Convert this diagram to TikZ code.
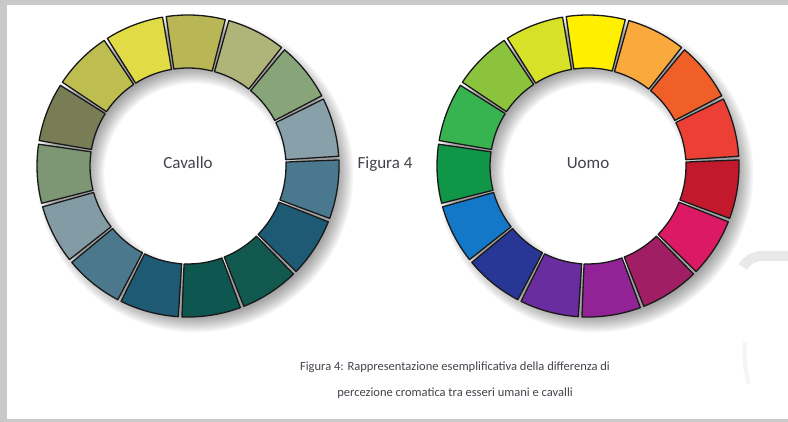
\documentclass[tikz,border=0pt]{standalone}
\usepackage{fontspec}
\setmainfont{Carlito}
\usetikzlibrary{positioning}

% palette, clockwise from the segment right of 3 o'clock going up
\definecolor{horse1}{HTML}{88A0AA}
\definecolor{horse2}{HTML}{87A578}
\definecolor{horse3}{HTML}{AFB478}
\definecolor{horse4}{HTML}{B9B655}
\definecolor{horse5}{HTML}{E1DC46}
\definecolor{horse6}{HTML}{BEBE50}
\definecolor{horse7}{HTML}{787D55}
\definecolor{horse8}{HTML}{7D9673}
\definecolor{horse9}{HTML}{829BA5}
\definecolor{horse10}{HTML}{4B788C}
\definecolor{horse11}{HTML}{1E5A73}
\definecolor{horse12}{HTML}{0E5650}
\definecolor{horse13}{HTML}{11594F}
\definecolor{horse14}{HTML}{1E5A73}
\definecolor{horse15}{HTML}{4A788E}
\definecolor{human1}{HTML}{EC4037}
\definecolor{human2}{HTML}{F05F28}
\definecolor{human3}{HTML}{FAAA3C}
\definecolor{human4}{HTML}{FFF000}
\definecolor{human5}{HTML}{D7E128}
\definecolor{human6}{HTML}{8CC33C}
\definecolor{human7}{HTML}{37B450}
\definecolor{human8}{HTML}{0F9646}
\definecolor{human9}{HTML}{1478C8}
\definecolor{human10}{HTML}{283796}
\definecolor{human11}{HTML}{692DA0}
\definecolor{human12}{HTML}{912396}
\definecolor{human13}{HTML}{A01E64}
\definecolor{human14}{HTML}{DC1964}
\definecolor{human15}{HTML}{C3192D}
\definecolor{txtgrey}{HTML}{43434D}
\definecolor{framegrey}{HTML}{C9C9C9}
\definecolor{faintgrey}{HTML}{E9E9E9}

\begin{document}
\begin{tikzpicture}[x=1pt,y=1pt,
    seg/.style={draw=black!90,line width=1.3pt,line join=round},
    lbl/.style={text=txtgrey,font=\fontsize{17}{20}\selectfont}]
  \useasboundingbox (0,0) rectangle (788,422);
  \fill[framegrey] (0,0) rectangle (788,422);
  \fill[white] (7,3) rectangle (788,417);
  % faint smudge on the right
  \draw[faintgrey,line width=10pt] (788,166) -- (762,166) arc[start angle=90,end angle=150,radius=22];
  \draw[faintgrey!50,line width=4pt] (745,80) arc[start angle=175,end angle=195,radius=120];
  % the two wheels
  \foreach \cx/\pal in {188/horse,588/human} {
    % soft shadow
    \foreach \i in {0,...,9} {
      \fill[black,opacity=0.045,even odd rule] (\cx+7,248) circle ({142+1.8*\i}) (\cx+7,248) circle ({107-1.8*\i});
    }
    \begin{scope}[shift={(\cx,256)}]
      \foreach \k in {1,...,15} {
        \pgfmathsetmacro\a{3+24*(\k-1)+0.7}
        \pgfmathsetmacro\b{3+24*\k-0.7}
        \filldraw[seg,fill=\pal\k] (\a:151) arc[start angle=\a,end angle=\b,radius=151]
          -- (\b:98) arc[start angle=\b,end angle=\a,radius=98] -- cycle;
      }
    \end{scope}
  }
  \node[lbl] (cavallo) at (188,259) {Cavallo};
  \node[lbl] (uomo) at (588,259) {Uomo};
  \node[lbl] (figura) at (385,258) {Figura 4};
  \node[text=txtgrey,align=center,font=\fontsize{12.5}{26}\selectfont] (caption) at (455,42)
    {Figura 4: Rappresentazione esemplificativa della differenza di\\
     percezione cromatica tra esseri umani e cavalli};
\end{tikzpicture}
\end{document}
